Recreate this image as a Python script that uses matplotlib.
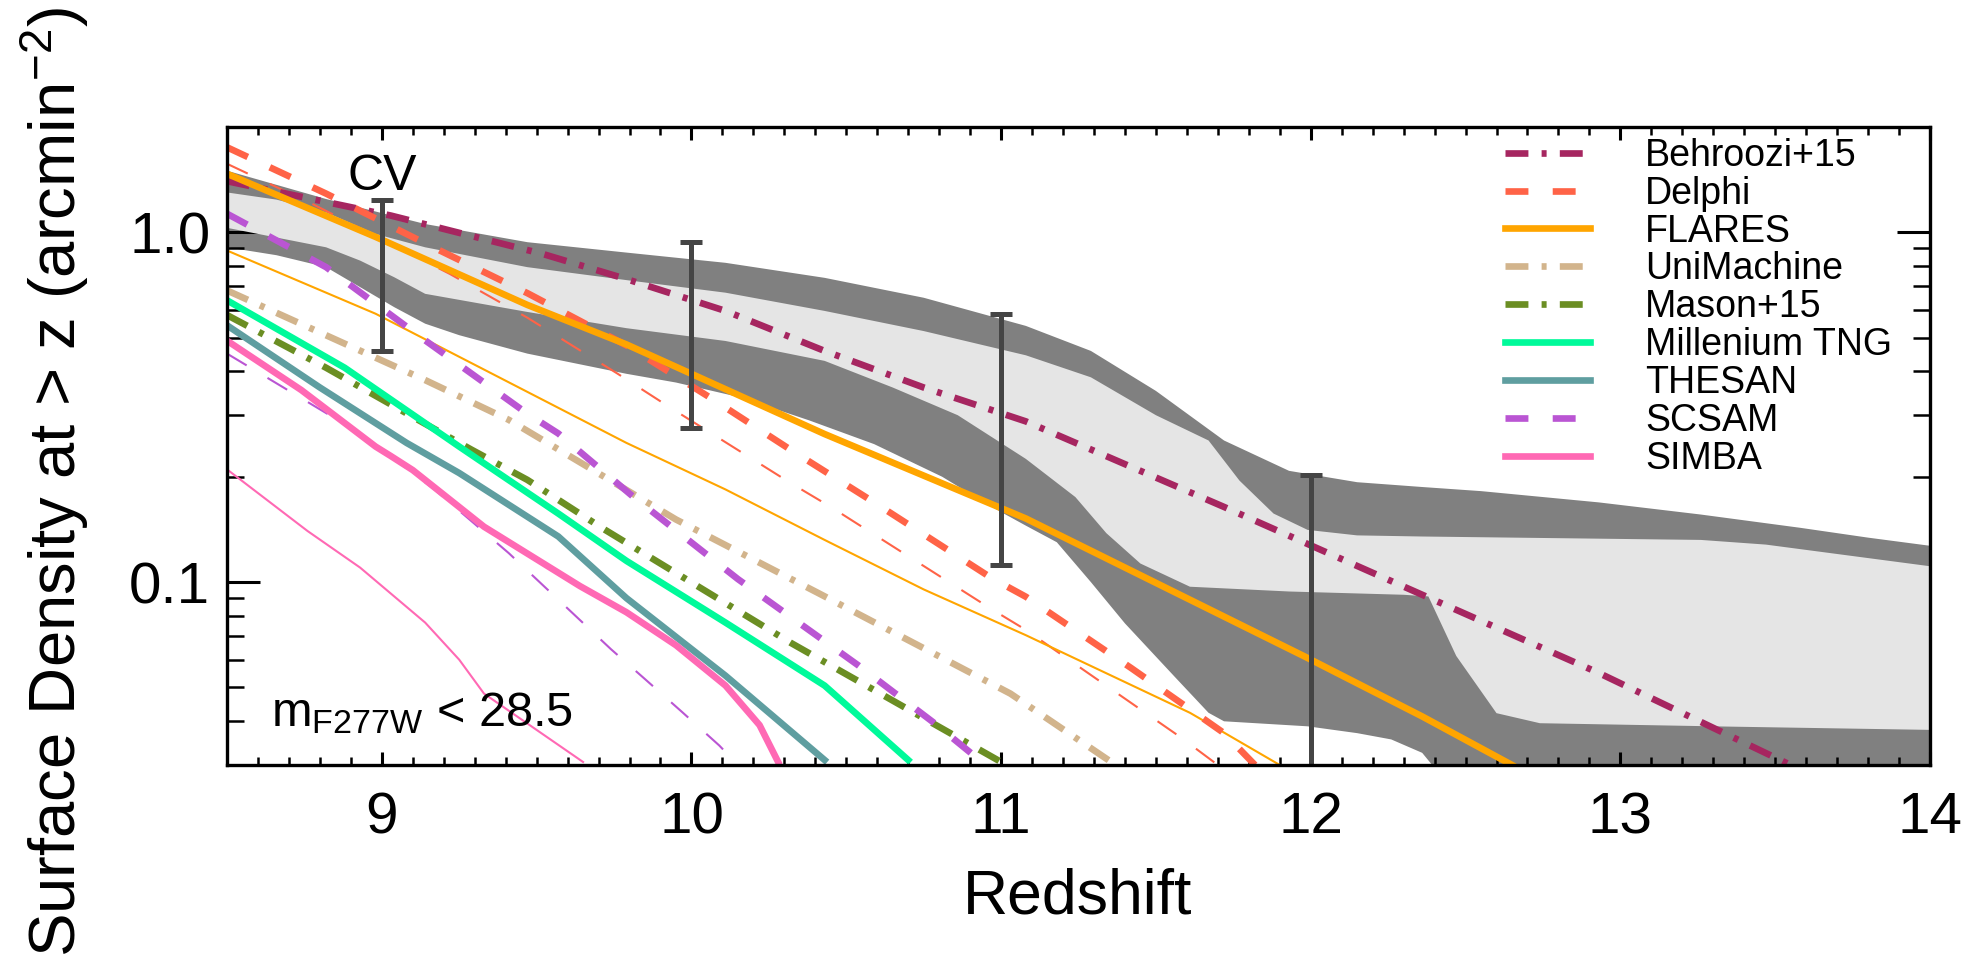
import matplotlib
matplotlib.use("Agg")
import matplotlib.pyplot as plt
from matplotlib.ticker import MultipleLocator, LogLocator, NullFormatter, FixedLocator, FixedFormatter

plt.rcParams['font.family'] = ['Liberation Sans', 'DejaVu Sans']
plt.rcParams['mathtext.fontset'] = 'custom'
plt.rcParams['mathtext.rm'] = 'Liberation Sans'
plt.rcParams['mathtext.it'] = 'Liberation Sans:italic'
plt.rcParams['mathtext.bf'] = 'Liberation Sans:bold'
plt.rcParams['lines.scale_dashes'] = False

# ---------------- data ----------------
# CV bands (dark outer, light inner)
dark_top_z = [8.5, 8.82, 9.14, 9.47, 9.79, 10.11, 10.43, 10.75, 11.08, 11.29, 11.5, 11.72, 11.93,
              12.15, 12.36, 12.55, 12.93, 13.26, 13.58, 13.80, 14.0]
dark_top_v = [1.50, 1.245, 1.056, 0.937, 0.875, 0.818, 0.741, 0.65, 0.54, 0.458, 0.352, 0.254, 0.208,
              0.193, 0.187, 0.182, 0.169, 0.156, 0.143, 0.134, 0.127]
dark_bot_z = [8.5, 8.66, 8.82, 8.93, 9.04, 9.14, 9.25, 9.47, 9.79, 9.95, 10.16, 10.38, 10.59, 10.81,
              10.97, 11.08, 11.18, 11.29, 11.40, 11.56, 11.67, 11.72, 11.99, 12.15, 12.26, 12.36,
              12.42, 14.0]
dark_bot_v = [0.906, 0.86, 0.795, 0.697, 0.611, 0.548, 0.508, 0.45, 0.394, 0.372, 0.337, 0.29, 0.248,
              0.20, 0.164, 0.145, 0.13, 0.10, 0.0762, 0.0537, 0.0423, 0.040, 0.0387, 0.037, 0.0355,
              0.0325, 0.028, 0.02]
light_top_z = [8.5, 8.66, 8.82, 8.98, 9.14, 9.47, 9.79, 10.11, 10.43, 10.75, 11.08, 11.29, 11.5,
               11.67, 11.77, 11.88, 11.99, 12.15, 12.36, 13.26, 13.47, 14.0]
light_top_v = [1.30, 1.24, 1.14, 0.989, 0.906, 0.795, 0.73, 0.672, 0.596, 0.522, 0.445, 0.385, 0.30,
               0.254, 0.195, 0.157, 0.141, 0.136, 0.135, 0.132, 0.128, 0.111]
light_bot_z = [8.5, 8.82, 8.93, 9.04, 9.14, 9.47, 9.79, 10.11, 10.43, 10.65, 10.86, 11.08, 11.24,
               11.34, 11.45, 11.61, 11.93, 12.3, 12.38, 12.47, 12.60, 12.74, 13.37, 14.0]
light_bot_v = [1.03, 0.906, 0.83, 0.744, 0.667, 0.592, 0.532, 0.489, 0.429, 0.36, 0.30, 0.225, 0.175,
               0.138, 0.113, 0.097, 0.094, 0.092, 0.091, 0.0615, 0.0422, 0.0395, 0.0386, 0.0378]

# CV error bars
cv_z = [9, 10, 11, 12]
cv_lo = [0.458, 0.275, 0.112, 0.02]
cv_hi = [1.24, 0.94, 0.584, 0.203]

# model curves
behroozi_z = [8.5, 9.03, 9.52, 9.79, 10.11, 10.43, 10.75, 11.08, 11.72, 12.36, 12.93, 13.55]
behroozi_v = [1.40, 1.116, 0.867, 0.735, 0.596, 0.458, 0.36, 0.288, 0.164, 0.092, 0.055, 0.03]

delphi_z = [8.5, 8.82, 9.14, 9.47, 9.79, 10.06, 10.32, 10.59, 10.97, 11.08, 11.42, 11.72, 11.82]
delphi_v = [1.75, 1.29, 0.93, 0.67, 0.475, 0.337, 0.239, 0.169, 0.1026, 0.0908, 0.0568, 0.037, 0.03]
delphi_thin_z = [8.5, 8.78, 9.22, 9.47, 9.76, 9.93, 10.32, 10.45, 10.97, 11.08, 11.58, 11.7]
delphi_thin_v = [1.57, 1.20, 0.76, 0.57, 0.395, 0.316, 0.192, 0.164, 0.0836, 0.073, 0.036, 0.03]

flares_z = [8.5, 8.98, 9.47, 9.79, 10.43, 11.08, 11.98, 12.36, 12.65]
flares_v = [1.47, 0.97, 0.62, 0.478, 0.265, 0.152, 0.0613, 0.0413, 0.03]
flares_thin_z = [8.5, 8.98, 9.79, 10.11, 10.43, 10.75, 11.08, 11.61, 11.9]
flares_thin_v = [0.887, 0.585, 0.25, 0.184, 0.132, 0.0953, 0.0705, 0.0423, 0.03]

unimachine_z = [8.5, 9.14, 9.41, 9.95, 10.41, 11.03, 11.37]
unimachine_v = [0.682, 0.378, 0.291, 0.151, 0.093, 0.048, 0.03]

mason_z = [8.5, 8.82, 9.12, 9.29, 9.47, 9.71, 10.32, 11.0]
mason_v = [0.58, 0.41, 0.29, 0.239, 0.196, 0.143, 0.0671, 0.0306]

tng_z = [8.5, 8.88, 9.25, 9.57, 9.79, 10.11, 10.43, 10.70]
tng_v = [0.639, 0.41, 0.244, 0.157, 0.115, 0.0766, 0.0506, 0.031]

thesan_z = [8.5, 8.8, 9.08, 9.25, 9.57, 9.79, 10.11, 10.43]
thesan_v = [0.542, 0.36, 0.25, 0.205, 0.135, 0.09, 0.054, 0.031]

scsam_z = [8.5, 8.82, 9.14, 9.47, 9.57, 9.81, 10.15, 10.54, 10.78, 10.95]
scsam_v = [1.13, 0.795, 0.491, 0.303, 0.266, 0.176, 0.102, 0.0577, 0.0398, 0.03]
scsam_thin_z = [8.5, 8.66, 8.93, 9.17, 9.41, 9.74, 9.85, 9.97, 10.09, 10.15]
scsam_thin_v = [0.45, 0.37, 0.266, 0.184, 0.121, 0.0643, 0.0528, 0.0425, 0.0341, 0.03]

simba_z = [8.5, 8.74, 8.98, 9.03, 9.10, 9.33, 9.64, 9.79, 9.95, 10.11, 10.22, 10.28]
simba_v = [0.49, 0.354, 0.244, 0.229, 0.209, 0.144, 0.0974, 0.082, 0.066, 0.0506, 0.039, 0.0306]
simba_thin_z = [8.5, 8.76, 8.93, 9.14, 9.25, 9.33, 9.65]
simba_thin_v = [0.21, 0.14, 0.11, 0.0766, 0.06, 0.048, 0.0306]

labels = ['Behroozi+15', 'Delphi', 'FLARES', 'UniMachine', 'Mason+15',
          'Millenium TNG', 'THESAN', 'SCSAM', 'SIMBA']
colors = ['#A62660', '#FF6347', '#FFA500', '#D2B48C', '#6B8E23',
          '#00FA9A', '#5F9EA0', '#BA55D3', '#FF69B4']

# ---------------- figure ----------------
W, H = 1980, 963
fig = plt.figure(figsize=(W / 100, H / 100), dpi=100)
L, R, T, B = 227, 1930, 127, 765
ax = fig.add_axes([L / W, 1 - B / H, (R - L) / W, (B - T) / H])
ax.set_yscale('log')

# bands
ax.fill(dark_top_z + dark_bot_z[::-1], dark_top_v + dark_bot_v[::-1],
        color='#808080', lw=0, zorder=1)
ax.fill(light_top_z + light_bot_z[::-1], light_top_v + light_bot_v[::-1],
        color='#E5E5E5', lw=0, zorder=2)

thick = 4.8
thin = 1.5
dash = (0, (16.5, 17.5))
dashdot = (0, (16.5, 9.5, 3.6, 9.5))

# thin lines
ax.plot(delphi_thin_z, delphi_thin_v, color=colors[1], lw=thin, ls=dash, zorder=3)
ax.plot(flares_thin_z, flares_thin_v, color=colors[2], lw=thin, zorder=3)
ax.plot(scsam_thin_z, scsam_thin_v, color=colors[7], lw=thin, ls=dash, zorder=3)
ax.plot(simba_thin_z, simba_thin_v, color=colors[8], lw=thin, zorder=3)

handles = []
series = [(behroozi_z, behroozi_v, dashdot), (delphi_z, delphi_v, dash),
          (flares_z, flares_v, '-'), (unimachine_z, unimachine_v, dashdot),
          (mason_z, mason_v, dashdot), (tng_z, tng_v, '-'),
          (thesan_z, thesan_v, '-'), (scsam_z, scsam_v, dash),
          (simba_z, simba_v, '-')]
for (zz, vv, ls), c, lab in zip(series, colors, labels):
    h, = ax.plot(zz, vv, color=c, lw=thick, ls=ls, label=lab, zorder=4)
    handles.append(h)

# CV error bars
yerr = [[h - l for h, l in zip(cv_hi, cv_lo)], [0] * len(cv_hi)]
ax.errorbar(cv_z, cv_hi, yerr=yerr, fmt='none', ecolor='#454545', elinewidth=3.6,
            capsize=8, capthick=3.6, zorder=6)
ax.text(9.0, 1.318, 'CV', fontsize=36, ha='center', va='baseline', zorder=7)
ax.text(0.026, 0.061, r'm$_{\mathrm{F277W}}$ < 28.5', transform=ax.transAxes,
        fontsize=35, ha='left', va='baseline', zorder=7)

ax.set_xlim(8.5, 14)
ax.set_ylim(0.03, 2.0)

# ticks
ax.xaxis.set_major_locator(FixedLocator([9, 10, 11, 12, 13, 14]))
ax.xaxis.set_major_formatter(FixedFormatter(['9', '10', '11', '12', '13', '14']))
ax.xaxis.set_minor_locator(MultipleLocator(0.1))
ax.yaxis.set_major_locator(FixedLocator([0.1, 1.0]))
ax.yaxis.set_major_formatter(FixedFormatter(['0.1', '1.0']))
ax.yaxis.set_minor_locator(LogLocator(base=10, subs=[2, 3, 4, 5, 6, 7, 8, 9]))
ax.yaxis.set_minor_formatter(NullFormatter())
ax.tick_params(which='both', direction='in', top=True, right=True, color='black')
ax.tick_params(axis='x', which='major', length=9.4, width=2.2, pad=19, labelsize=42)
ax.tick_params(axis='x', which='minor', length=5.8, width=1.8)
ax.tick_params(axis='y', which='major', length=24, width=2.2, pad=12, labelsize=42)
ax.tick_params(axis='y', which='minor', length=12, width=1.8)
for s in ax.spines.values():
    s.set_linewidth(2.4)
    s.set_zorder(8)

# labels
fig.text(1078 / W, 1 - 913 / H, 'Redshift', fontsize=45, ha='center', va='baseline')
fig.text(55 / W, 1 - 482 / H, r'Surface Density at > z (arcmin$^{-2}$)', fontsize=47,
         rotation=90, ha='center', va='center')

# legend
ax.legend(handles, labels, loc='upper left', bbox_to_anchor=(0.7505, 0.983),
          frameon=False, fontsize=27, handlelength=2.27, handletextpad=1.47,
          labelspacing=0.05, borderpad=0, borderaxespad=0)

fig.savefig('out.png', dpi=100)
